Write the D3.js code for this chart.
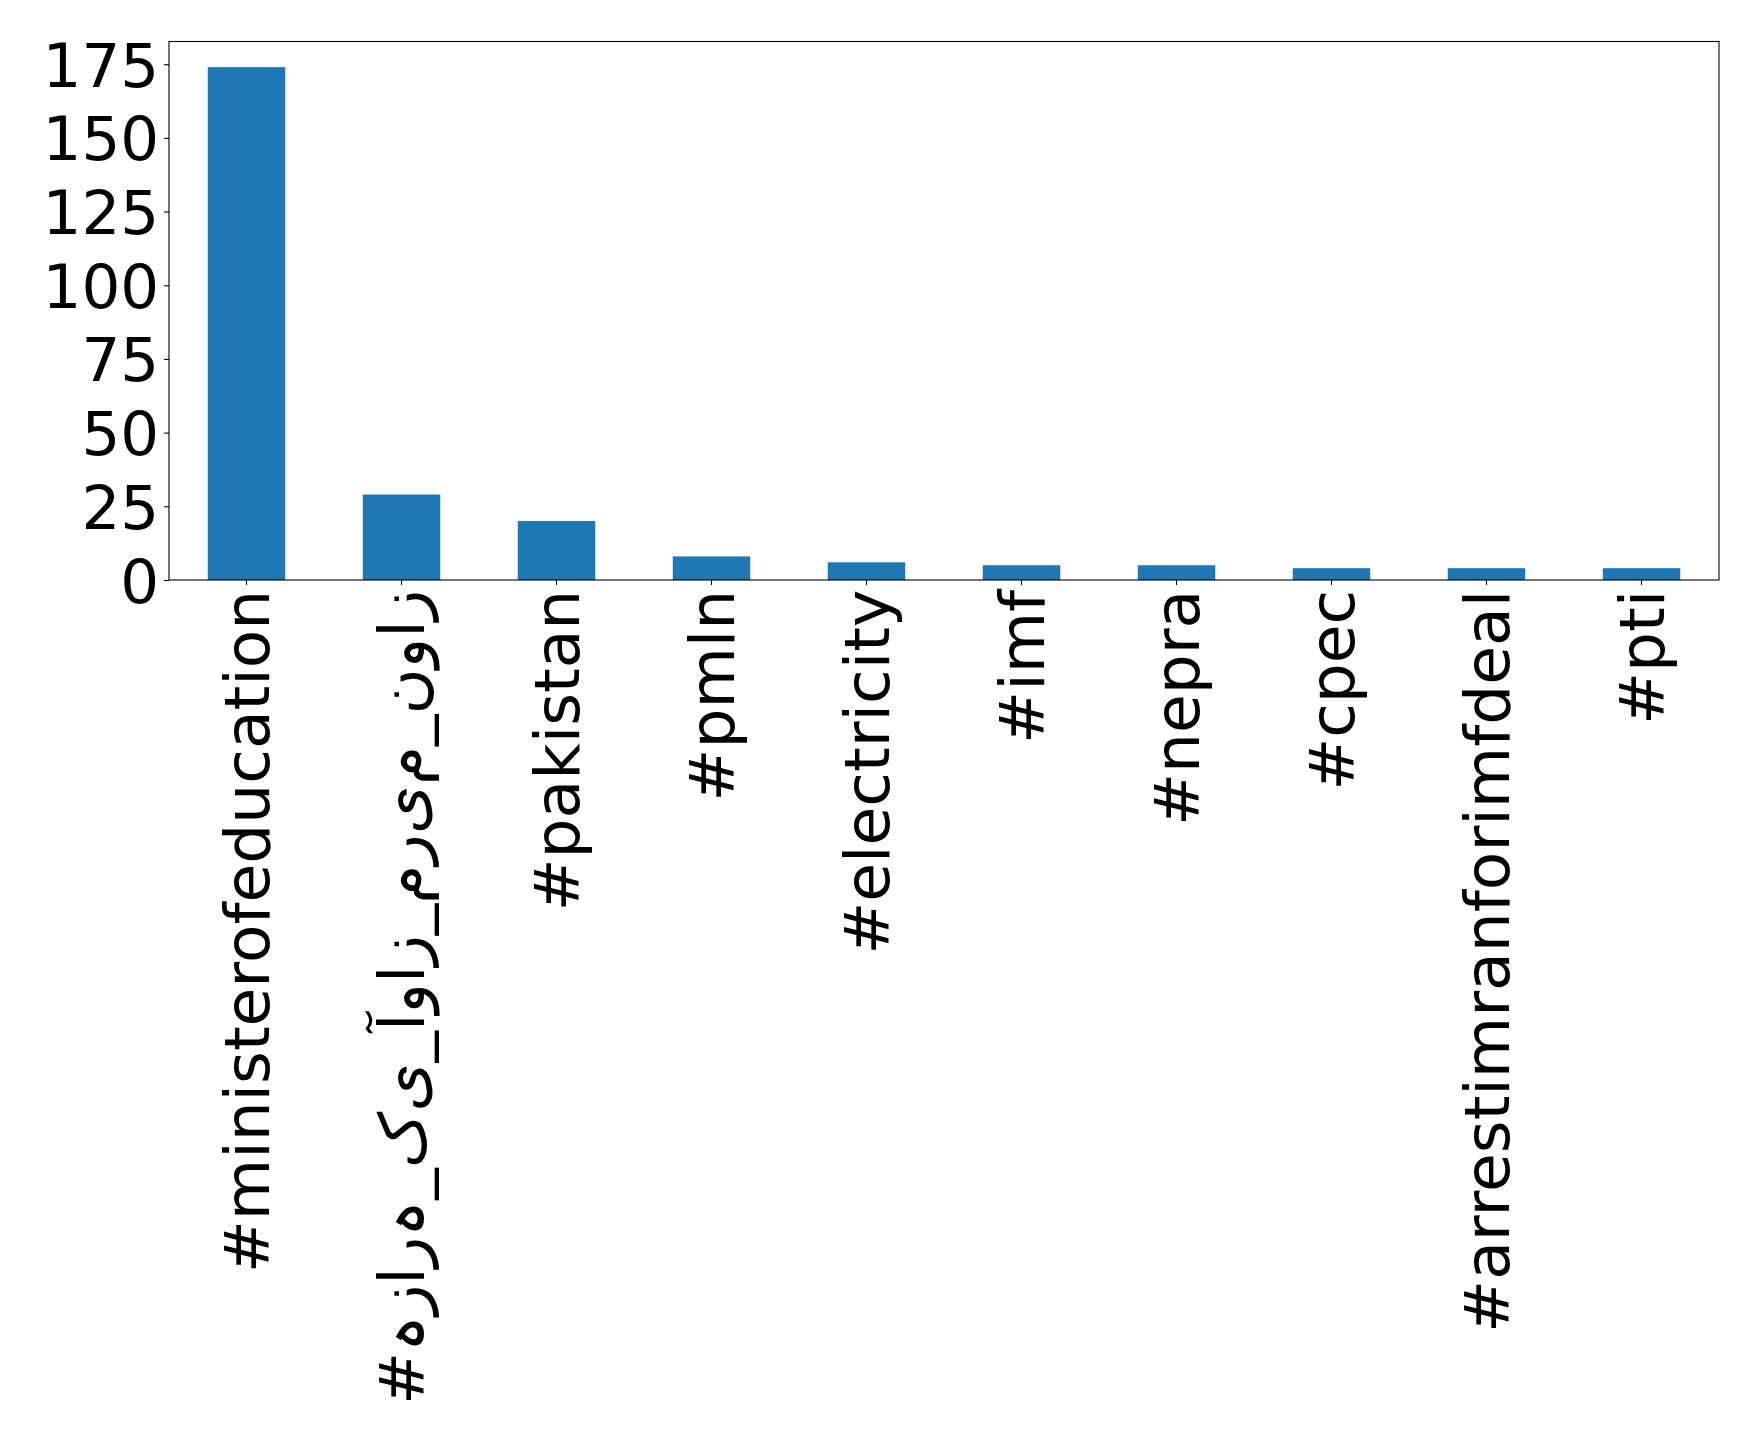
<!DOCTYPE html>
<html>
<head>
<meta charset="utf-8">
<script src="https://cdn.jsdelivr.net/npm/d3@7"></script>
<style>
  html, body { margin: 0; padding: 0; background: #fff; }
  text { font-family: "DejaVu Sans", sans-serif; }
</style>
</head>
<body>
<svg id="chart" width="1758" height="1440"></svg>
<script>
const categories = ["#ministerofeducation", "#ہزارہ_کی_آواز_مریم_نواز", "#pakistan", "#pmln", "#electricity", "#imf", "#nepra", "#cpec", "#arrestimranforimfdeal", "#pti"];
const values = [174, 29, 20, 8, 6, 5, 5, 4, 4, 4];
const yTicks = [0, 25, 50, 75, 100, 125, 150, 175];

const margin = {left: 169, top: 41.5, right: 1758 - 1719, bottom: 1440 - 580};
const W = 1758 - margin.left - margin.right;
const H = 1440 - margin.top - margin.bottom;
const fontSize = 61.1;
const xFontSize = 63;
const tickLen = 4.9, tickPad = 4.9, lw = 1.1;

const svg = d3.select("#chart");
const g = svg.append("g").attr("transform", `translate(${margin.left},${margin.top})`);

const x = d3.scaleBand().domain(categories).range([0, W]).paddingInner(0.5).paddingOuter(0.25);
const y = d3.scaleLinear().domain([0, d3.max(values) * 1.05]).range([H, 0]);

const data = categories.map((c, i) => ({c, v: values[i]}));

g.selectAll("rect.bar").data(data).enter().append("rect")
  .attr("class", "bar")
  .attr("x", d => x(d.c))
  .attr("width", x.bandwidth())
  .attr("y", d => y(d.v))
  .attr("height", d => H - y(d.v))
  .attr("fill", "#1f77b4");

// frame
g.append("rect").attr("x", 0).attr("y", 0).attr("width", W).attr("height", H)
  .attr("fill", "none").attr("stroke", "#000").attr("stroke-width", lw);

// y axis
const yAxis = d3.axisLeft(y).tickValues(yTicks).tickSize(tickLen).tickPadding(tickPad).tickFormat(d3.format("d"));
const ya = g.append("g").call(yAxis);
ya.select(".domain").remove();
ya.selectAll(".tick line").attr("stroke", "#000").attr("stroke-width", lw);
ya.selectAll(".tick text").attr("font-size", fontSize).attr("font-family", "DejaVu Sans").attr("fill", "#000").attr("dy", "0.36em");

// x axis: letters shown unjoined, left to right, as in the reference rendering
const unjoined = s => /[\u0600-\u06FF]/.test(s) ? Array.from(s).join("\u200C") : s;
const xAxis = d3.axisBottom(x).tickSize(tickLen).tickPadding(tickPad).tickFormat(unjoined);
const xa = g.append("g").attr("transform", `translate(0,${H})`).call(xAxis);
xa.select(".domain").remove();
xa.selectAll(".tick line").attr("stroke", "#000").attr("stroke-width", lw);
xa.selectAll(".tick text")
  .attr("font-size", xFontSize).attr("font-family", "DejaVu Sans").attr("fill", "#000")
  .attr("transform", "rotate(-90)")
  .attr("x", -(tickLen + tickPad))
  .attr("y", 0)
  .attr("dy", "0.36em")
  .attr("text-anchor", "end")
  .style("direction", "ltr")
  .style("unicode-bidi", "bidi-override");
</script>
</body>
</html>
